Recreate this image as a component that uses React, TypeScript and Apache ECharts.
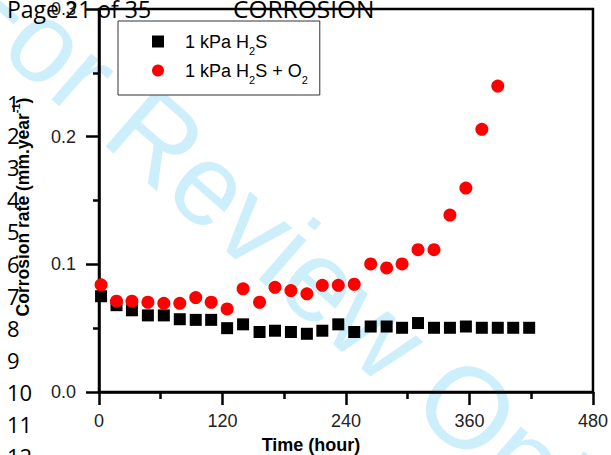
import React, { useEffect, useRef } from 'react';
import * as echarts from 'echarts';

// Time in hours (shared sampling of both series)
const hours = [2, 17, 32, 47.5, 63, 78.5, 94, 109, 124.5, 140, 156, 171, 186.5, 202, 217, 232.5, 248, 264, 279.5, 294.5, 310, 325.5, 341, 356.5, 372, 387.5, 402.5, 418];
// 1 kPa H2S corrosion rate (mm/year)
const h2sRate = [0.075, 0.068, 0.064, 0.06, 0.06, 0.057, 0.0565, 0.0565, 0.05, 0.053, 0.047, 0.048, 0.047, 0.0456, 0.048, 0.053, 0.047, 0.0513, 0.0513, 0.0503, 0.054, 0.0503, 0.0503, 0.0513, 0.0503, 0.0503, 0.0503, 0.0503];
// 1 kPa H2S + O2 corrosion rate (mm/year)
const h2sO2Rate = [0.084, 0.0711, 0.0711, 0.0703, 0.0695, 0.0695, 0.074, 0.0703, 0.0651, 0.0808, 0.0703, 0.082, 0.0795, 0.0769, 0.0836, 0.0836, 0.0844, 0.1003, 0.0972, 0.1003, 0.1115, 0.1115, 0.1386, 0.1597, 0.2058, 0.2396];

const seriesNames = ['1 kPa H2S', '1 kPa H2S + O2'];
const legendLabels = ['1 kPa H{sub|2}S', '1 kPa H{sub|2}S + O{sub|2}'];
const lineNumbers = ['1', '2', '3', '4', '5', '6', '7', '8', '9', '10', '11', '12'];
const headerLeft = 'Page 21 of 35';
const headerRight = 'CORROSION';
const watermark = 'For Review Only';
const xName = 'Time (hour)';
const yName = 'Corrosion rate (mm.year{sup|-1})';

export default function App() {
  const ref = useRef<HTMLDivElement>(null);
  useEffect(() => {
    if (!ref.current) return;
    const chart = echarts.init(ref.current, undefined, { renderer: 'svg' });
    const lineStyle = { color: '#000', width: 2.5 };
    const labelStyle = { fontSize: 18, fontFamily: 'Liberation Sans', color: '#222' };
    const graphics: any[] = [
      {
        type: 'text', x: -29.5, y: -24, rotation: -0.7156, z: -10, silent: true,
        style: { text: watermark, fontSize: 115, fontFamily: 'Liberation Sans', fill: '#cdeefb', align: 'left', verticalAlign: 'middle' },
      },
      {
        type: 'text', x: 7, y: 8.5, z: 100,
        style: { text: headerLeft, fontSize: 23, fontFamily: 'Open Sans', fill: '#000', align: 'left', verticalAlign: 'middle' },
      },
      {
        type: 'text', x: 233, y: 8.5, z: 100,
        style: { text: headerRight, fontSize: 24.5, fontFamily: 'Open Sans', fill: '#000', align: 'left', verticalAlign: 'middle' },
      },
      {
        type: 'text', x: 311, y: 445, z: 100,
        style: { text: xName, fontSize: 18, fontWeight: 'bold', fontFamily: 'Liberation Sans', fill: '#000', align: 'center', verticalAlign: 'middle' },
      },
      {
        type: 'text', x: 23, y: 207, rotation: Math.PI / 2, z: 100,
        style: {
          text: yName, fontSize: 17.5, fontWeight: 'bold', fontFamily: 'Liberation Sans', fill: '#000', align: 'center', verticalAlign: 'middle',
          rich: { sup: { fontSize: 11, fontWeight: 'bold', fontFamily: 'Liberation Sans', fill: '#000', padding: [0, 0, 14, 0] } },
        },
      },
    ];
    lineNumbers.forEach((n, i) => {
      graphics.push({
        type: 'text', x: 7, y: 103 + i * 32.1, z: 100,
        style: { text: n, fontSize: 22, fontFamily: 'Open Sans', fill: '#000', align: 'left', verticalAlign: 'middle' },
      });
    });

    const option: any = {
      animation: false,
      graphic: graphics,
      grid: { left: 99, right: 18, top: 7, bottom: 63, show: true, borderColor: '#000', borderWidth: 2.5, backgroundColor: 'transparent' },
      legend: {
        orient: 'vertical', left: 118, top: 21,
        padding: [6, 12, 10, 34], itemGap: 0, itemWidth: 12, itemHeight: 12,
        borderColor: '#333', borderWidth: 1, backgroundColor: '#fff',
        data: [{ name: seriesNames[0], icon: 'rect' }, { name: seriesNames[1], icon: 'circle' }],
        formatter: (name: string) => legendLabels[seriesNames.indexOf(name)],
        textStyle: {
          fontSize: 18, fontFamily: 'Liberation Sans', color: '#000', lineHeight: 20, padding: [0, 0, 0, 16],
          rich: { sub: { fontSize: 11, fontFamily: 'Liberation Sans', color: '#000', lineHeight: 11, padding: [18, 0, 0, 0] } },
        },
      },
      xAxis: {
        type: 'value', min: 0, max: 480, interval: 120,
        axisLine: { show: true, onZero: false, lineStyle },
        axisTick: { show: true, length: 13, lineStyle },
        minorTick: { show: true, splitNumber: 2, length: 7, lineStyle },
        splitLine: { show: false },
        axisLabel: { ...labelStyle, margin: 20 },
      },
      yAxis: {
        type: 'value', min: 0, max: 0.3, interval: 0.1,
        axisLine: { show: true, onZero: false, lineStyle },
        axisTick: { show: true, length: 13, lineStyle },
        minorTick: { show: true, splitNumber: 2, length: 6, lineStyle },
        splitLine: { show: false },
        axisLabel: { ...labelStyle, margin: 23, formatter: (v: number) => v.toFixed(1) },
      },
      series: [
        {
          type: 'scatter', name: seriesNames[0], symbol: 'rect', symbolSize: 12, z: 3,
          itemStyle: { color: '#000', opacity: 1 },
          data: hours.map((h, i) => [h, h2sRate[i]]),
        },
        {
          type: 'scatter', name: seriesNames[1], symbol: 'circle', symbolSize: 13, z: 4,
          itemStyle: { color: '#ff0000', opacity: 1 },
          data: h2sO2Rate.map((v, i) => [hours[i], v]),
        },
      ],
    };
    chart.setOption(option);
    return () => chart.dispose();
  }, []);
  return <div ref={ref} style={{ width: 611, height: 455, position: 'absolute', left: 0, top: 0 }} />;
}
